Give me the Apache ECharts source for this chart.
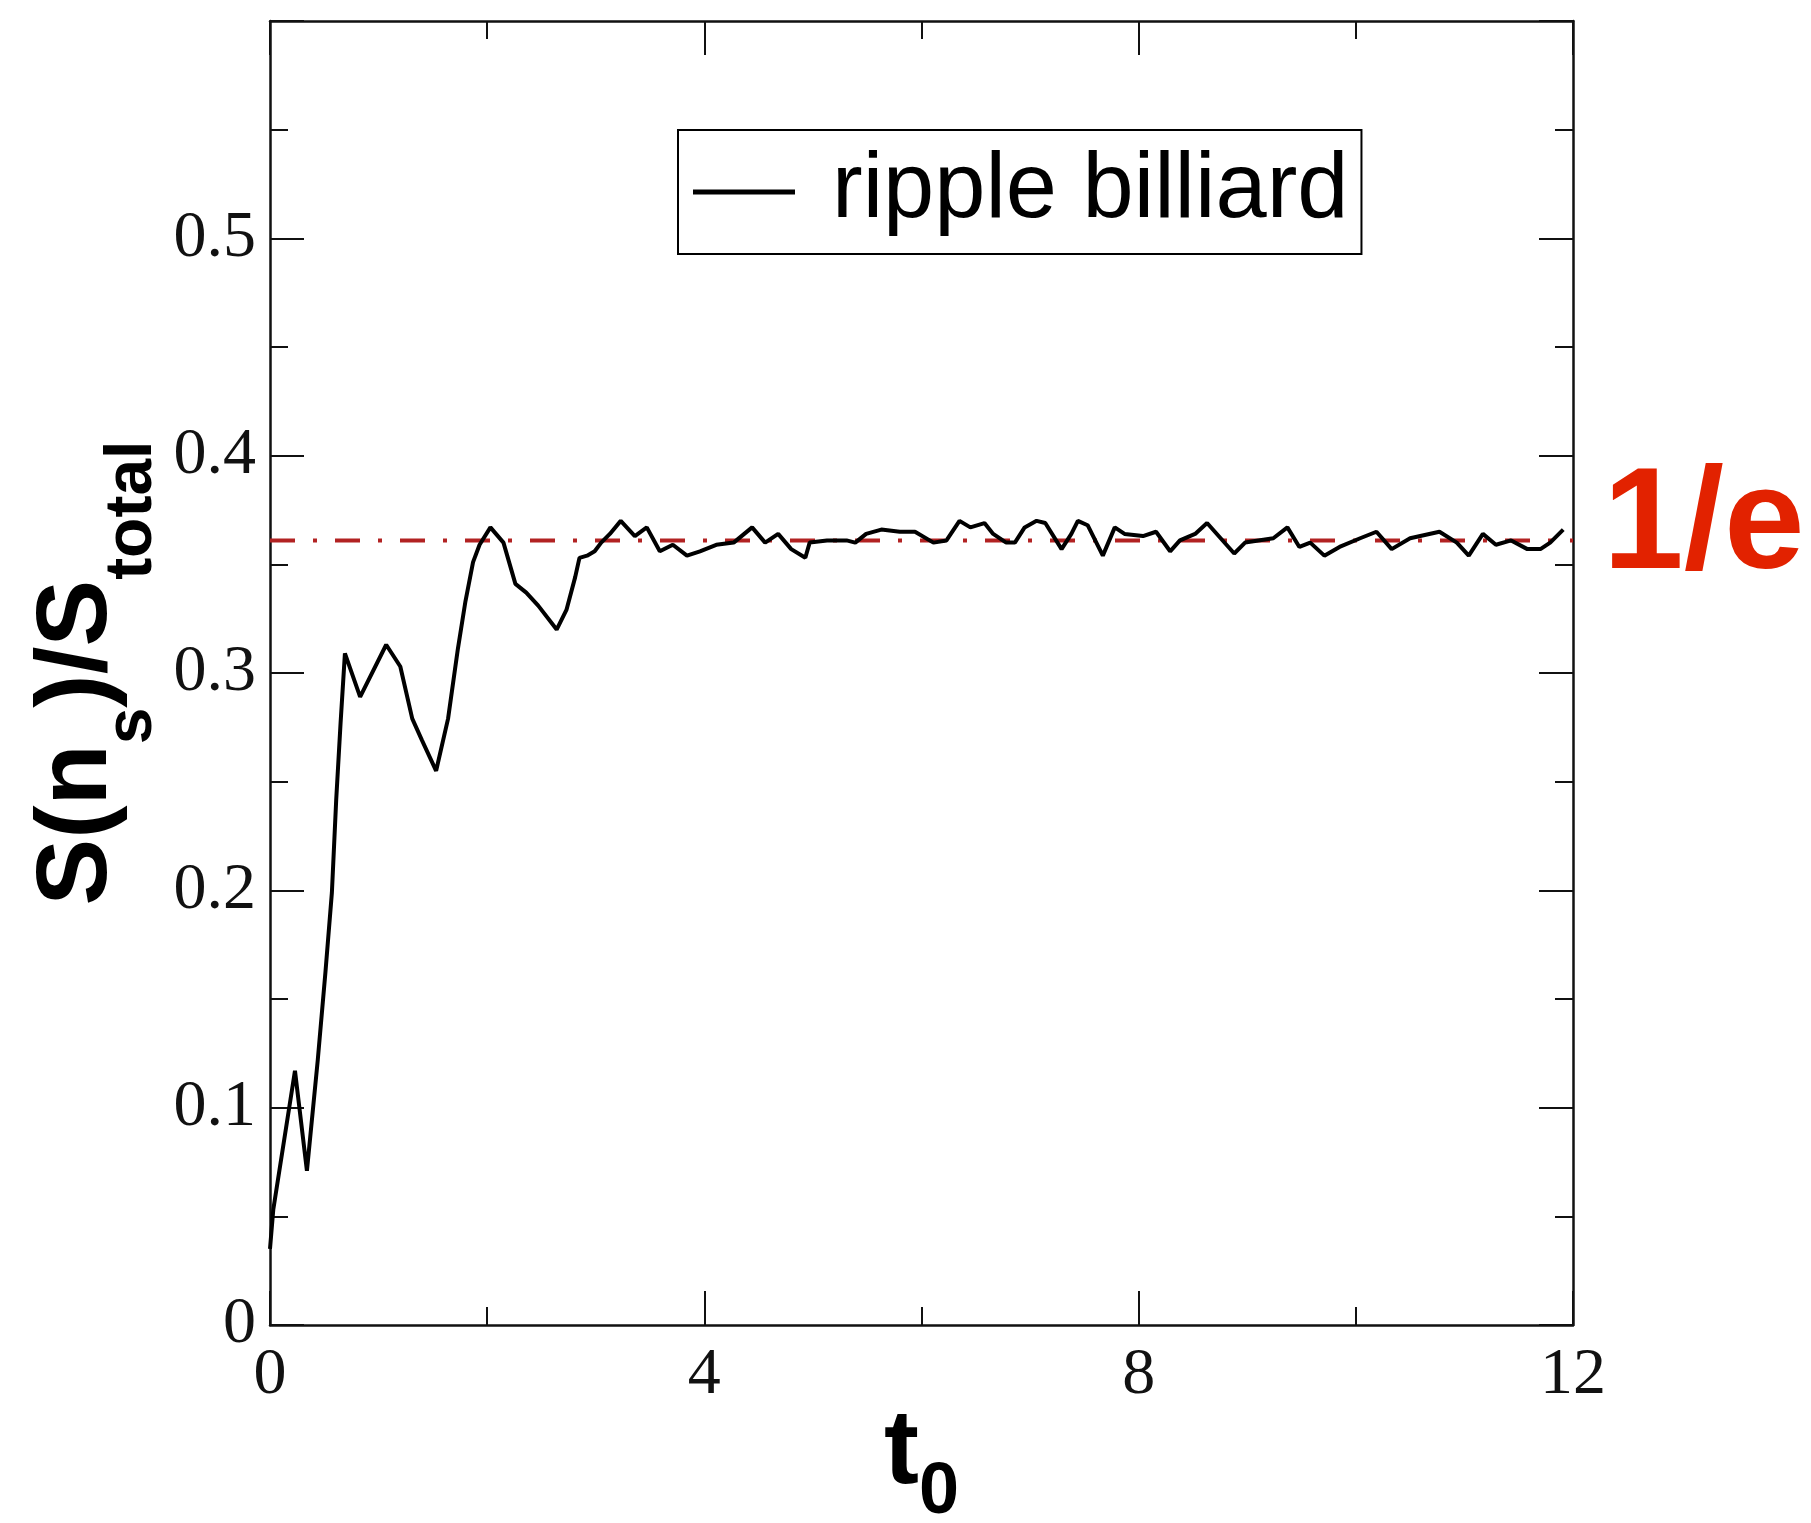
<!DOCTYPE html>
<html>
<head>
<meta charset="utf-8">
<script src="https://cdn.jsdelivr.net/npm/echarts@6/dist/echarts.min.js"></script>
<style>
html,body{margin:0;padding:0;background:#fff;}
#chart{width:1811px;height:1523px;}
</style>
</head>
<body>
<div id="chart"></div>
<script>
// t0 values (x) and S(n_s)/S_total values (y)
const tValues = [0.00,0.03,0.23,0.34,0.44,0.51,0.57,0.61,0.65,0.69,0.83,1.07,1.20,1.31,1.40,1.53,1.64,1.73,1.80,1.87,1.93,2.03,2.15,2.26,2.36,2.47,2.64,2.73,2.81,2.85,2.92,2.99,3.05,3.13,3.23,3.36,3.47,3.59,3.71,3.84,3.96,4.11,4.27,4.44,4.56,4.68,4.80,4.93,4.97,5.13,5.31,5.39,5.49,5.63,5.80,5.94,6.11,6.23,6.35,6.45,6.58,6.66,6.78,6.86,6.95,7.06,7.14,7.29,7.38,7.44,7.53,7.67,7.78,7.87,8.04,8.16,8.29,8.38,8.52,8.63,8.88,8.98,9.24,9.37,9.48,9.58,9.71,9.85,10.04,10.19,10.33,10.50,10.77,10.93,11.04,11.17,11.29,11.43,11.58,11.70,11.79,11.91];
const sValues = [0.035,0.053,0.117,0.071,0.122,0.162,0.199,0.242,0.277,0.309,0.289,0.313,0.303,0.279,0.269,0.255,0.279,0.311,0.333,0.351,0.359,0.367,0.360,0.341,0.337,0.331,0.320,0.329,0.344,0.353,0.354,0.356,0.360,0.364,0.370,0.363,0.367,0.356,0.359,0.354,0.356,0.359,0.360,0.367,0.360,0.364,0.357,0.353,0.360,0.361,0.361,0.360,0.364,0.366,0.365,0.365,0.360,0.361,0.370,0.367,0.369,0.364,0.360,0.360,0.367,0.370,0.369,0.357,0.364,0.370,0.368,0.354,0.367,0.364,0.363,0.365,0.356,0.361,0.364,0.369,0.355,0.360,0.362,0.367,0.358,0.360,0.354,0.358,0.362,0.365,0.357,0.362,0.365,0.360,0.354,0.364,0.359,0.361,0.357,0.357,0.360,0.366];
// reference level 1/e line (as drawn)
const refT = [0, 12];
const refS = [0.361, 0.361];
const seriesName = 'ripple billiard';
const refLabel = '1/e';
const xTicks = {min: 0, max: 12, interval: 4};
const yTicks = {min: 0, max: 0.6, interval: 0.1};

const chart = echarts.init(document.getElementById('chart'), null, {renderer: 'canvas'});
const curve = tValues.map((t, i) => [t, sValues[i]]);
const refLine = refT.map((t, i) => [t, refS[i]]);

const serif = "'Liberation Serif','DejaVu Serif',serif";
const sans = "'Liberation Sans',Arial,sans-serif";
const axisCol = '#111';

function xAxisCfg(pos, labels) {
  return {
    type: 'value', position: pos, min: xTicks.min, max: xTicks.max, interval: xTicks.interval,
    axisLine: {show: true, onZero: false, lineStyle: {color: axisCol, width: 2.5}},
    axisTick: {show: true, inside: true, length: 34, lineStyle: {color: axisCol, width: 2}},
    minorTick: {show: true, splitNumber: 2, length: 18, lineStyle: {color: axisCol, width: 2}},
    splitLine: {show: false},
    axisLabel: {show: labels, margin: 18, fontFamily: serif, fontSize: 66, color: '#111'}
  };
}
function yAxisCfg(pos, labels) {
  return {
    type: 'value', position: pos, min: yTicks.min, max: yTicks.max, interval: yTicks.interval,
    axisLine: {show: true, onZero: false, lineStyle: {color: axisCol, width: 2.5}},
    axisTick: {show: true, inside: true, length: 34, lineStyle: {color: axisCol, width: 2}},
    minorTick: {show: true, splitNumber: 2, length: 18, lineStyle: {color: axisCol, width: 2}},
    splitLine: {show: false},
    axisLabel: {show: labels, margin: 14, fontFamily: serif, fontSize: 66, color: '#111',
      formatter: v => (v > 0.55 ? '' : String(+v.toFixed(1)))}
  };
}

const xa = xAxisCfg('bottom', true);
xa.name = '{a|t}{b|0}';
xa.nameLocation = 'middle';
xa.nameGap = 54;
xa.nameMoveOverlap = false;
xa.nameTextStyle = {rich: {
  a: {fontFamily: sans, fontWeight: 'bold', fontSize: 105, lineHeight: 150, color: '#000'},
  b: {fontFamily: sans, fontWeight: 'bold', fontSize: 72, lineHeight: 72, verticalAlign: 'bottom', color: '#000'}
}};
const ya = yAxisCfg('left', true);
ya.name = '{a|S(n}{b|s}{a|)/S}{b|total}';
ya.nameLocation = 'middle';
ya.nameGap = 104;
ya.nameMoveOverlap = false;
ya.nameTextStyle = {rich: {
  a: {fontFamily: sans, fontWeight: 'bold', fontSize: 100, lineHeight: 176, color: '#000'},
  b: {fontFamily: sans, fontWeight: 'bold', fontSize: 66, lineHeight: 66, verticalAlign: 'bottom', color: '#000'}
}};

chart.setOption({
  backgroundColor: '#fff',
  animation: false,
  grid: {left: 270, right: 238, top: 21, bottom: 198, containLabel: false, outerBoundsMode: 'none'},
  xAxis: [xa, xAxisCfg('top', false)],
  yAxis: [ya, yAxisCfg('right', false)],
  legend: {
    data: [seriesName], left: 678, top: 130,
    padding: [12, 13, 12, 15], borderColor: '#000', borderWidth: 2,
    icon: 'rect', itemWidth: 102, itemHeight: 5,
    textStyle: {fontFamily: sans, fontSize: 92, lineHeight: 100, color: '#000', padding: [0, 0, 0, 32]}
  },
  series: [
    {
      name: refLabel, type: 'line', data: refLine, symbol: 'none', silent: true,
      xAxisIndex: 0, yAxisIndex: 0, z: 2,
      lineStyle: {color: '#b22222', width: 4, type: [25, 18, 4, 18]},
      endLabel: {show: true, formatter: refLabel, color: '#e22200', fontFamily: sans, fontWeight: 'bold',
        fontSize: 145, distance: 30, offset: [0, -12]}
    },
    {
      name: seriesName, type: 'line', data: curve, symbol: 'none',
      xAxisIndex: 0, yAxisIndex: 0, z: 3,
      itemStyle: {color: '#000'},
      lineStyle: {color: '#000', width: 4}
    }
  ]
});
</script>
</body>
</html>
